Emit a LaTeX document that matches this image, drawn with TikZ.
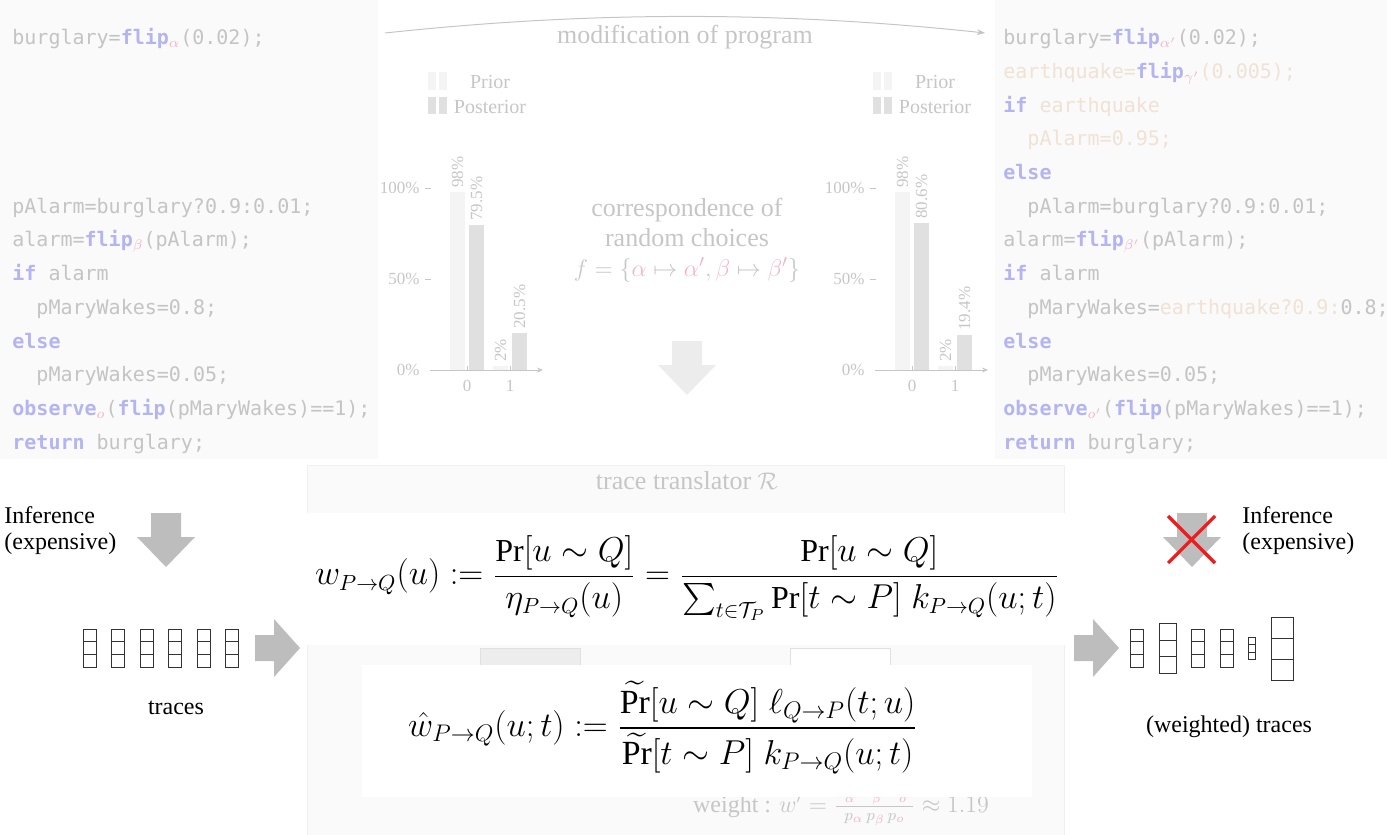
\documentclass[tikz,border=0pt]{standalone}
\usepackage{amsmath}
\usepackage{amssymb}
\usepackage{fontspec}
\setmainfont{Liberation Serif}
\newfontfamily\codefont{DejaVu Sans Mono}
\usetikzlibrary{arrows.meta, calc}

\definecolor{panelbg}{HTML}{FAFAFA}
\definecolor{panelline}{HTML}{F0F0F0}
\definecolor{codegray}{HTML}{C4C4C4}
\definecolor{kwblue}{HTML}{B4B4F2}
\definecolor{chpink}{HTML}{F0B4CC}
\definecolor{quakebeige}{HTML}{F0E2D4}
\definecolor{chartgray}{HTML}{C6C6C6}
\definecolor{priorbar}{HTML}{F4F4F4}
\definecolor{postbar}{HTML}{E0E0E0}
\definecolor{blockgray}{HTML}{BDBDBD}
\definecolor{faintblock}{HTML}{ECECEC}
\definecolor{crossred}{HTML}{EE1C1C}

\newcommand{\kw}[1]{\textcolor{kwblue}{\textbf{#1}}}
\newcommand{\rc}[1]{$_{\textcolor{chpink}{#1}}$}
\newcommand{\quake}[1]{\textcolor{quakebeige}{#1}}
\newcommand{\ind}{\hphantom{xx}}
\newcommand{\pk}[1]{\textcolor{chpink}{#1}}

\tikzset{
  downblock/.pic={\fill[pic actions] (-15,-27) -- (15,-27) -- (15,-3) -- (29,-3)
                   -- (0,27) -- (-29,-3) -- (-15,-3) -- cycle;},
  rightblock/.pic={\fill[pic actions] (-22,-13) -- (-3,-13) -- (-3,-29) -- (23,0)
                    -- (-3,29) -- (-3,13) -- (-22,13) -- cycle;},
  tracestack/.pic={\draw[black!80, line width=0.45pt] (-6.5,-19) rectangle (6.5,19);
                   \draw[black!80, line width=0.45pt] (-6.5,-6.3) -- (6.5,-6.3);
                   \draw[black!80, line width=0.45pt] (-6.5,6.3) -- (6.5,6.3);}
}

\begin{document}
\begin{tikzpicture}[x=0.5pt, y=-0.5pt,
  code/.style={anchor=north west, align=left, inner sep=0pt, text=codegray,
               font=\codefont\fontsize{10}{16.85}\selectfont},
  chartlbl/.style={text=chartgray, inner sep=1pt, font=\fontsize{8.5}{10}\selectfont},
  legend/.style={text=chartgray, inner sep=0pt, font=\fontsize{10}{12}\selectfont},
  faint/.style={text=chartgray, align=center, font=\fontsize{13}{15}\selectfont},
  label/.style={align=left, inner sep=0pt, font=\fontsize{12}{13}\selectfont},
  axis/.style={draw=chartgray, line width=0.4pt},
  formula/.style={inner sep=0pt}]

  \useasboundingbox (0,0) rectangle (1387,835);

  % code panels
  \fill[panelbg] (0,0) rectangle (378,459);
  \fill[panelbg] (995,0) rectangle (1387,459);

  \node[code] (codeL) at (12,20.8) {\strut burglary=\kw{flip}\rc{\alpha}(0.02);\\
    \mbox{}\\ \mbox{}\\ \mbox{}\\ \mbox{}\\
    pAlarm=burglary?0.9:0.01;\\
    alarm=\kw{flip}\rc{\beta}(pAlarm);\\
    \kw{if} alarm\\
    \ind pMaryWakes=0.8;\\
    \kw{else}\\
    \ind pMaryWakes=0.05;\\
    \kw{observe}\rc{o}(\kw{flip}(pMaryWakes)==1);\\
    \kw{return} burglary;};

  \node[code] (codeR) at (1003,20.8) {\strut burglary=\kw{flip}\rc{\alpha'}(0.02);\\
    \quake{earthquake=}\kw{flip}\rc{\gamma'}\quake{(0.005);}\\
    \kw{if} \quake{earthquake}\\
    \ind\quake{pAlarm=0.95;}\\
    \kw{else}\\
    \ind pAlarm=burglary?0.9:0.01;\\
    alarm=\kw{flip}\rc{\beta'}(pAlarm);\\
    \kw{if} alarm\\
    \ind pMaryWakes=\quake{earthquake?0.9:}0.8;\\
    \kw{else}\\
    \ind pMaryWakes=0.05;\\
    \kw{observe}\rc{o'}(\kw{flip}(pMaryWakes)==1);\\
    \kw{return} burglary;};

  % modification arc
  \coordinate (modA) at (385,33);
  \coordinate (modB) at (985,33);
  \draw[chartgray!80!black!60, line width=0.5pt, -{Stealth[length=4pt, width=3pt]}]
    (modA) .. controls (590,11) and (780,11) .. (modB);
  \node[faint] (modif) at (685,37) {modification of program};

  % legends
  \fill[priorbar] (428,72) rectangle (436,90);
  \fill[priorbar] (439,72) rectangle (447,90);
  \fill[postbar]  (428,97) rectangle (436,114);
  \fill[postbar]  (439,97) rectangle (447,114);
  \node[legend] (priorL) at (490,82) {Prior};
  \node[legend] (postL)  at (490,107) {Posterior};

  \fill[priorbar] (873,72) rectangle (881,90);
  \fill[priorbar] (884,72) rectangle (892,90);
  \fill[postbar]  (873,97) rectangle (881,114);
  \fill[postbar]  (884,97) rectangle (892,114);
  \node[legend] (priorR) at (935,82) {Prior};
  \node[legend] (postR)  at (935,107) {Posterior};

  % left histogram
  \fill[priorbar] (450,370) rectangle (465,191.6);
  \fill[postbar]  (469,370) rectangle (484,225.3);
  \fill[priorbar] (493,370) rectangle (508,366.4);
  \fill[postbar]  (512,370) rectangle (527,332.7);
  \draw[axis, -{Stealth[length=3pt, width=2.5pt]}] (430,370) -- (543,370);
  \draw[axis] (425,188) -- (431,188);
  \draw[axis] (425,279) -- (431,279);
  \draw[axis] (467,370) -- (467,366);
  \draw[axis] (510,370) -- (510,366);
  \node[chartlbl, anchor=east] (l100) at (422,188) {100\%};
  \node[chartlbl, anchor=east] (l50)  at (422,279) {50\%};
  \node[chartlbl, anchor=east] (l0)   at (422,370) {0\%};
  \node[chartlbl, anchor=north] (lx0) at (467,378) {0};
  \node[chartlbl, anchor=north] (lx1) at (510,378) {1};
  \node[chartlbl, rotate=90, anchor=west] (lp0) at (457.5,190) {98\%};
  \node[chartlbl, rotate=90, anchor=west] (lq0) at (476.5,223) {79.5\%};
  \node[chartlbl, rotate=90, anchor=west] (lp1) at (500.5,364) {2\%};
  \node[chartlbl, rotate=90, anchor=west] (lq1) at (519.5,331) {20.5\%};

  % right histogram
  \fill[priorbar] (895,370) rectangle (910,191.6);
  \fill[postbar]  (914,370) rectangle (929,223.3);
  \fill[priorbar] (938,370) rectangle (953,366.4);
  \fill[postbar]  (957,370) rectangle (972,334.7);
  \draw[axis, -{Stealth[length=3pt, width=2.5pt]}] (875,370) -- (988,370);
  \draw[axis] (870,188) -- (876,188);
  \draw[axis] (870,279) -- (876,279);
  \draw[axis] (912,370) -- (912,366);
  \draw[axis] (955,370) -- (955,366);
  \node[chartlbl, anchor=east] (r100) at (867,188) {100\%};
  \node[chartlbl, anchor=east] (r50)  at (867,279) {50\%};
  \node[chartlbl, anchor=east] (r0)   at (867,370) {0\%};
  \node[chartlbl, anchor=north] (rx0) at (912,378) {0};
  \node[chartlbl, anchor=north] (rx1) at (955,378) {1};
  \node[chartlbl, rotate=90, anchor=west] (rp0) at (902.5,190) {98\%};
  \node[chartlbl, rotate=90, anchor=west] (rq0) at (921.5,221) {80.6\%};
  \node[chartlbl, rotate=90, anchor=west] (rp1) at (945.5,364) {2\%};
  \node[chartlbl, rotate=90, anchor=west] (rq1) at (964.5,333) {19.4\%};

  % correspondence
  \node[faint] (corr) at (687,240) {correspondence of\\random choices\\
    $f=\{\pk{\alpha}\mapsto\pk{\alpha'},\pk{\beta}\mapsto\pk{\beta'}\}$};
  \pic[fill=faintblock] at (687,368) {downblock};

  % trace translator panel
  \fill[panelbg, draw=panelline] (307,465) rectangle (1064,835);
  \node[faint] (transl) at (687,481) {trace translator $\mathcal{R}$};
  \fill[black!7, draw=black!12] (480,648) rectangle (580,700);
  \fill[white, draw=black!12] (790,648) rectangle (890,700);
  \node[faint, font=\fontsize{12}{14}\selectfont] (weight) at (841,804)
    {weight : $w'=\frac{p'_{\pk{\alpha'}}\,p'_{\pk{\beta'}}\,p'_{\pk{o'}}}{p_{\pk{\alpha}}\,p_{\pk{\beta}}\,p_{\pk{o}}}\approx 1.19$};

  % formulas
  \fill[white] (300,513) rectangle (1071,645);
  \fill[white] (362,665) rectangle (1032,797);
  \node[formula] (wdef) at (687,578) {\fontsize{16}{19}\selectfont
    $\displaystyle w_{P\to Q}(u) := \frac{\Pr[u\sim Q]}{\eta_{P\to Q}(u)}
     = \frac{\Pr[u\sim Q]}{\sum_{t\in\mathcal{T}_P}\Pr[t\sim P]\;k_{P\to Q}(u;t)}$};
  \node[formula] (west) at (663,728) {\fontsize{16.9}{19}\selectfont
    $\displaystyle \hat{w}_{P\to Q}(u;t) := \frac{\widetilde{\Pr}[u\sim Q]\;\ell_{Q\to P}(t;u)}
     {\widetilde{\Pr}[t\sim P]\;k_{P\to Q}(u;t)}$};

  % left side: inference and traces
  \node[label, anchor=west] (infL) at (4,531) {Inference\\(expensive)};
  \pic[fill=blockgray] at (166,540) {downblock};
  \pic at (90,648) {tracestack};
  \pic at (118,648) {tracestack};
  \pic at (146.5,648) {tracestack};
  \pic at (175,648) {tracestack};
  \pic at (203.5,648) {tracestack};
  \pic at (232,648) {tracestack};
  \node[label] (tracesL) at (176,708) {traces};
  \pic[fill=blockgray] at (277,648) {rightblock};

  % right side: weighted traces
  \pic[fill=blockgray] at (1096,648) {rightblock};
  \pic at (1137,648) {tracestack};
  \pic[scale=1.3] at (1167.5,648.5) {tracestack};
  \pic at (1198,648) {tracestack};
  \pic at (1226.5,648) {tracestack};
  \pic[scale=0.6] at (1252,648.5) {tracestack};
  \pic[scale=1.68] at (1282.5,649) {tracestack};
  \node[label] (tracesR) at (1229,727) {(weighted) traces};

  \pic[fill=blockgray] at (1192,540) {downblock};
  \coordinate (xa) at (1168,516);
  \coordinate (xb) at (1215,563);
  \coordinate (xc) at (1215,516);
  \coordinate (xd) at (1168,563);
  \draw[crossred, line width=1.6pt] (xa) -- (xb);
  \draw[crossred, line width=1.6pt] (xc) -- (xd);
  \node[label, anchor=west] (infR) at (1242,531) {Inference\\(expensive)};

\end{tikzpicture}
\end{document}
